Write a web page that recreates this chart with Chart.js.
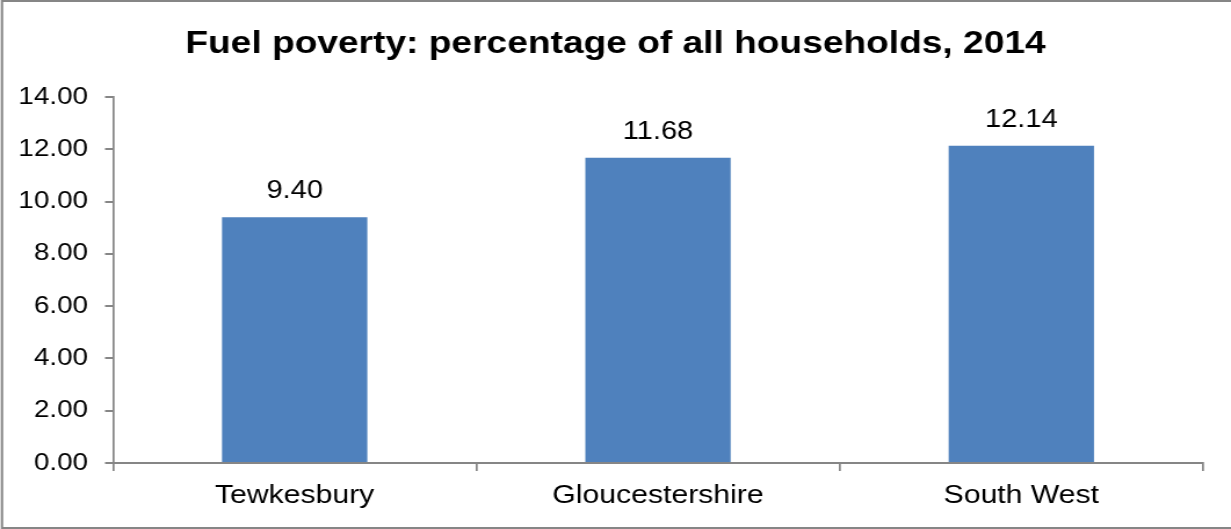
<!DOCTYPE html>
<html>
<head>
<meta charset="utf-8">
<script src="https://cdn.jsdelivr.net/npm/chart.js@4.4.1/dist/chart.umd.min.js"></script>
<style>
  html, body { margin: 0; padding: 0; background: #fff; overflow: hidden; }
  /* the source chart's text is drawn wider than Arial: stretch the canvas horizontally */
  #wrap { width: 1061px; height: 529px; transform: scaleX(1.1602); transform-origin: 0 0; }
</style>
</head>
<body>
<div id="wrap"><canvas id="chart" width="1061" height="529"></canvas></div>
<script>
// data
const categories = ["Tewkesbury", "Gloucestershire", "South West"];
const fuelPoverty = [9.40, 11.68, 12.14];
const yTicks = [0, 2, 4, 6, 8, 10, 12, 14];

const SX = 1.1602; // horizontal stretch
const AXIS_GREY = "#868686";
const FONT = "'Liberation Sans', Arial, sans-serif";

// white background + outer frame
const framePlugin = {
  id: "frame",
  beforeDraw(chart) {
    const c = chart.ctx;
    c.save();
    c.fillStyle = "#fff";
    c.fillRect(0, 0, chart.width, chart.height);
    c.strokeStyle = AXIS_GREY;
    c.lineWidth = 2;
    c.beginPath();
    c.moveTo(chart.width + 10, 1);
    c.lineTo(2 / SX, 1);
    c.lineTo(2 / SX, chart.height - 1);
    c.lineTo(chart.width + 10, chart.height - 1);
    c.stroke();
    c.restore();
  },
};

// value labels above bars
const valueLabels = {
  id: "valueLabels",
  afterDatasetsDraw(chart) {
    const c = chart.ctx;
    const meta = chart.getDatasetMeta(0);
    c.save();
    c.fillStyle = "#000";
    c.font = "25px " + FONT;
    c.textAlign = "center";
    c.textBaseline = "alphabetic";
    meta.data.forEach((bar, i) => {
      c.fillText(fuelPoverty[i].toFixed(2), bar.x, bar.y - 19);
    });
    c.restore();
  },
};

new Chart(document.getElementById("chart"), {
  type: "bar",
  data: {
    labels: categories,
    datasets: [
      {
        label: "Fuel poverty",
        data: fuelPoverty,
        backgroundColor: "#4F81BD",
        barPercentage: 0.4,
        categoryPercentage: 1,
      },
    ],
  },
  options: {
    responsive: false,
    animation: false,
    devicePixelRatio: 1,
    layout: { padding: 0 },
    plugins: {
      legend: { display: false },
      tooltip: { enabled: false },
      title: {
        display: true,
        text: "Fuel poverty: percentage of all households, 2014",
        color: "#000",
        font: { family: FONT, size: 32, weight: "bold", lineHeight: 1.2 },
        padding: { top: 25, bottom: 33.6 },
      },
    },
    scales: {
      x: {
        grid: {
          drawOnChartArea: false,
          drawTicks: true,
          tickLength: 8,
          lineWidth: 2 / SX,
          color: AXIS_GREY,
          offset: true,
        },
        border: { display: true, color: AXIS_GREY, width: 2 },
        ticks: {
          color: "#000",
          font: { family: FONT, size: 26 },
          padding: 9,
        },
        afterFit(s) { s.height = 66; },
      },
      y: {
        min: 0,
        max: 14,
        afterBuildTicks(s) { s.ticks = yTicks.map((v) => ({ value: v })); },
        grid: {
          drawOnChartArea: false,
          drawTicks: true,
          tickLength: 8 / SX,
          lineWidth: 2,
          color: AXIS_GREY,
        },
        border: { display: true, color: AXIS_GREY, width: 2 / SX },
        ticks: {
          color: "#000",
          font: { family: FONT, size: 24 },
          padding: 17 / SX,
          callback: (v) => Number(v).toFixed(2),
        },
        afterFit(s) { s.width = 113 / SX; },
      },
      yRight: {
        position: "right",
        display: true,
        grid: { display: false },
        border: { display: false },
        ticks: { display: false },
        afterFit(s) { s.width = 28 / SX; },
      },
    },
  },
  plugins: [framePlugin, valueLabels],
});
</script>
</body>
</html>
